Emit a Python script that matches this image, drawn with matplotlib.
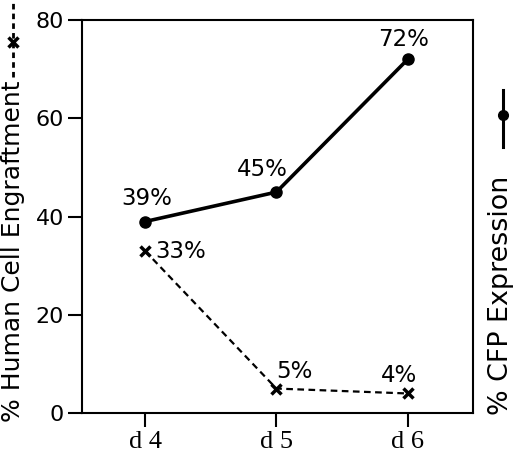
import matplotlib.pyplot as plt
from matplotlib.lines import Line2D

days = ['d 4', 'd 5', 'd 6']
cfp = [39, 45, 72]
engraft = [33, 5, 4]
cfp_labels = ['39%', '45%', '72%']
engraft_labels = ['33%', '5%', '4%']
yticks = [0, 20, 40, 60, 80]

plt.rcParams['font.family'] = ['DejaVu Sans']
serif = 'Liberation Serif'

fig = plt.figure(figsize=(5.2, 4.58), dpi=100)
ax = fig.add_axes([0.158, 0.098, 0.752, 0.858])

x = list(range(len(days)))
ax.plot(x, cfp, color='black', lw=2.6, marker='o', ms=8)
ax.plot(x, engraft, color='black', lw=1.6, ls=(0, (3, 2)), marker='x', ms=7, mew=2.5)

# point labels
fs = 16.5
ax.annotate(cfp_labels[0], (x[0], cfp[0]), xytext=(1, 8), textcoords='offset points',
            ha='center', va='bottom', fontsize=fs)
ax.annotate(cfp_labels[1], (x[1], cfp[1]), xytext=(-10, 8), textcoords='offset points',
            ha='center', va='bottom', fontsize=fs)
ax.annotate(cfp_labels[2], (x[2], cfp[2]), xytext=(-3, 6), textcoords='offset points',
            ha='center', va='bottom', fontsize=fs)
ax.annotate(engraft_labels[0], (x[0], engraft[0]), xytext=(7, 0), textcoords='offset points',
            ha='left', va='center', fontsize=fs)
ax.annotate(engraft_labels[1], (x[1], engraft[1]), xytext=(0, 4), textcoords='offset points',
            ha='left', va='bottom', fontsize=fs)
ax.annotate(engraft_labels[2], (x[2], engraft[2]), xytext=(-6, 5), textcoords='offset points',
            ha='center', va='bottom', fontsize=fs)

ax.set_xlim(-0.48, 2.5)
ax.set_ylim(0, 80)
ax.set_xticks(x)
ax.set_xticklabels(days, family=serif, fontsize=19)
ax.set_yticks(yticks)
ax.set_yticklabels([str(v) for v in yticks], fontsize=16)
ax.tick_params(axis='both', length=10, width=1.5, direction='out')
ax.tick_params(axis='x', pad=3)
ax.tick_params(axis='y', pad=3)
for s in ax.spines.values():
    s.set_linewidth(1.5)

# left axis label with legend key
fig.text(0.025, 0.079, '% Human Cell Engraftment', rotation=90, ha='center', va='bottom',
         fontsize=18)
fig.add_artist(Line2D([0.025, 0.025], [0.832, 0.993], transform=fig.transFigure,
                      color='black', lw=2, ls=(0, (2, 1.5))))
fig.add_artist(Line2D([0.025], [0.908], transform=fig.transFigure, color='black',
                      marker='x', ms=7, mew=2.5))

# right axis label with legend key
fig.text(0.963, 0.094, '% CFP Expression', rotation=90, ha='center', va='bottom',
         fontsize=19.4)
fig.add_artist(Line2D([0.967, 0.967], [0.679, 0.803], transform=fig.transFigure,
                      color='black', lw=2.2))
fig.add_artist(Line2D([0.967], [0.749], transform=fig.transFigure, color='black',
                      marker='o', ms=7))

fig.savefig('out.png', dpi=100)
